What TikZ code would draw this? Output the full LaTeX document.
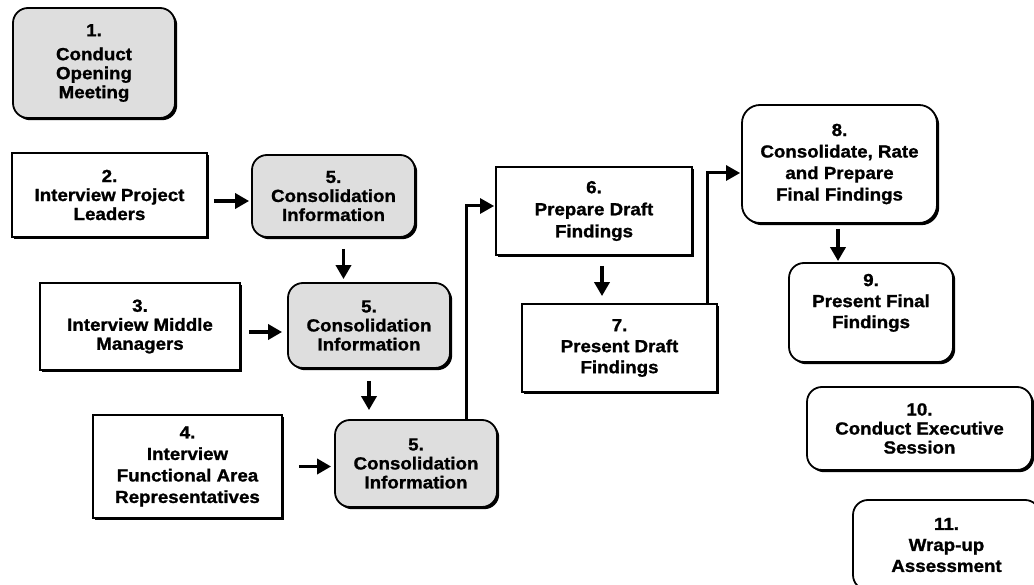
\documentclass[tikz,border=0pt]{standalone}
\usepackage{fontspec}
\setmainfont{Liberation Sans}[FakeStretch=1.07, BoldFeatures={FakeBold=1.2}]
\usetikzlibrary{arrows.meta,shadows}
\tikzset{
  base/.style={draw=black, line width=1.8pt, fill=white, inner sep=0pt, align=center,
    font=\fontsize{17.5}{19}\selectfont\bfseries,
    drop shadow={shadow xshift=2.2pt, shadow yshift=-2.2pt, opacity=1, fill=black}},
  sqbox/.style={base},
  rbox/.style={base, rounded corners=15pt},
  gbox/.style={base, rounded corners=15pt, fill=black!13},
  arr/.style={line width=3.5pt, -{Triangle[length=14pt,width=15pt]}},
}
\begin{document}
\begin{tikzpicture}[x=1pt,y=-1pt]
\useasboundingbox (0,0) rectangle (1034,585);
\clip (0,0) rectangle (1034,585);
\fill[white] (0,0) rectangle (1034,585);

\node[gbox, minimum width=162pt, minimum height=110pt] (b1) at (94,63) {1.\\[5pt]Conduct\\Opening\\Meeting};
\node[sqbox, minimum width=195pt, minimum height=84pt] (b2) at (109.5,195) {2.\\Interview Project\\Leaders};
\node[gbox, minimum width=163pt, minimum height=82pt] (c5a) at (333.5,196) {5.\\Consolidation\\Information};
\node[sqbox, minimum width=200pt, minimum height=87pt] (b3) at (140,326.5) {3.\\Interview Middle\\Managers};
\node[gbox, minimum width=162pt, minimum height=85pt] (c5b) at (369,325.5) {5.\\Consolidation\\Information};
\node[sqbox, minimum width=189pt, minimum height=103pt, font=\fontsize{17.5}{21.5}\selectfont\bfseries] (b4) at (187.5,466.5) {4.\\Interview\\Functional Area\\Representatives};
\node[gbox, minimum width=162pt, minimum height=87pt] (c5c) at (416,463.5) {5.\\Consolidation\\Information};
\node[sqbox, minimum width=196pt, minimum height=88pt, font=\fontsize{17.5}{22}\selectfont\bfseries] (b6) at (594,211) {6.\\Prepare Draft\\Findings};
\node[sqbox, minimum width=195pt, minimum height=88pt, font=\fontsize{17.5}{21}\selectfont\bfseries] (b7) at (619.5,348) {7.\\Present Draft\\Findings};
\node[rbox, rounded corners=18pt, minimum width=195pt, minimum height=118pt, font=\fontsize{17.5}{21.5}\selectfont\bfseries] (b8) at (839.5,164) {8.\\Consolidate, Rate\\and Prepare\\Final Findings};
\node[rbox, minimum width=164pt, minimum height=99pt, font=\fontsize{17.5}{21}\selectfont\bfseries] (b9) at (871,312.5) {9.\\Present Final\\Findings\\[2pt]};
\node[rbox, minimum width=225pt, minimum height=83pt] (b10) at (919.5,428.5) {10.\\Conduct Executive\\Session};
\node[rbox, minimum width=187pt, minimum height=90pt, font=\fontsize{17.5}{21}\selectfont\bfseries] (b11) at (946.5,545) {11.\\Wrap-up\\Assessment};

\draw[arr, shorten <=6pt, shorten >=2pt] ([yshift=-6pt]b2.east) -- ([yshift=-6pt]b2.east -| c5a.west);
\draw[arr, shorten <=11pt, shorten >=3pt] ([xshift=10pt]c5a.south) -- ([xshift=10pt]c5a.south |- c5b.north);
\draw[arr, shorten <=8pt, shorten >=5pt] ([yshift=-5.5pt]b3.east) -- ([yshift=-5.5pt]b3.east -| c5b.west);
\draw[arr, shorten <=12pt, shorten >=9pt] (c5b.south) -- (c5b.south |- c5c.north);
\draw[arr, shorten <=16pt, shorten >=3pt] (b4.east) -- (b4.east -| c5c.west);
\draw[arr, line width=3pt, shorten >=1pt] ([xshift=50pt]c5c.north) |- ([yshift=5pt]b6.west);
\draw[arr, shorten <=10pt, shorten >=7pt] ([xshift=8pt]b6.south) -- ([xshift=8pt]b6.south |- b7.north);
\draw[arr, line width=3pt, shorten >=1pt] ([xshift=87.5pt]b7.north) |- ([yshift=-9pt]b8.west);
\draw[arr, shorten <=5pt, shorten >=1pt] ([xshift=-1.5pt]b8.south) -- ([xshift=-1.5pt]b8.south |- b9.north);
\end{tikzpicture}
\end{document}
